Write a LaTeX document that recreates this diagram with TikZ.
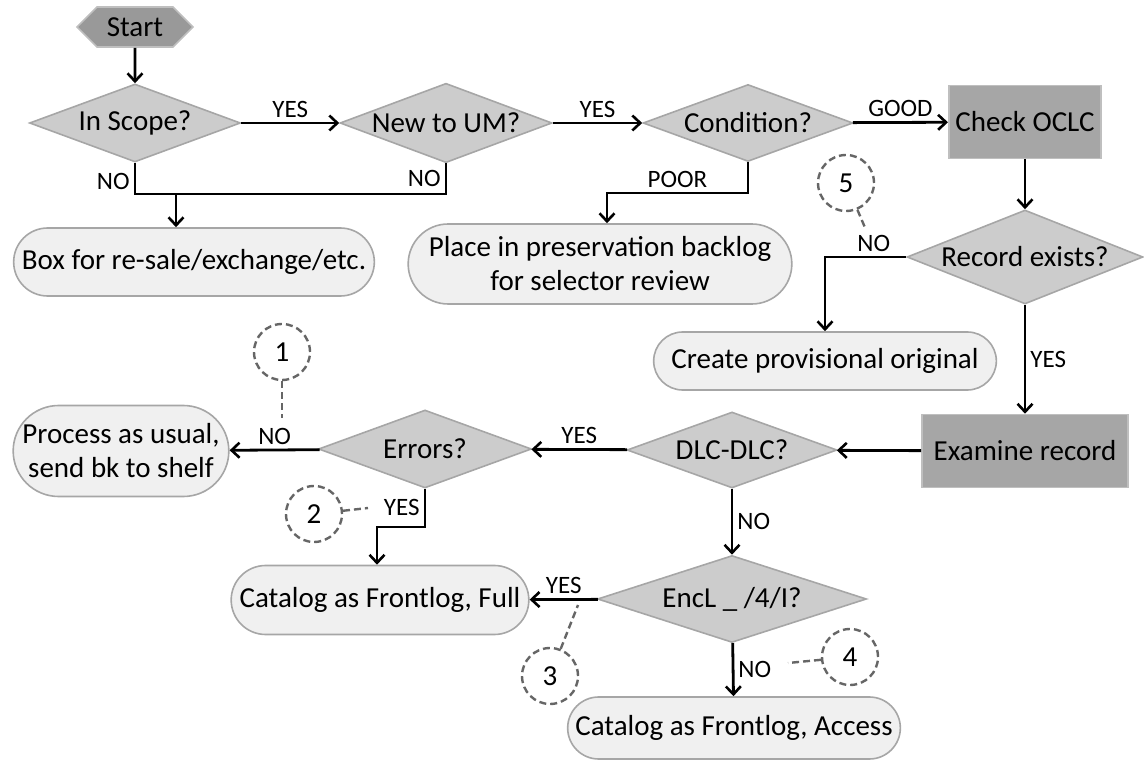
\documentclass[tikz,border=0pt]{standalone}
\usepackage{fontspec}
\setmainfont{Carlito}
\usetikzlibrary{shapes.geometric,shapes.misc,shapes.symbols,arrows.meta}

\begin{document}
\begin{tikzpicture}[
	x=0.5pt,y=-0.5pt,
	font=\fontsize{14.5}{17}\selectfont,
	decision/.style={diamond,draw=gray!70,line width=0.8pt,fill=gray!40,inner sep=0pt,aspect=2.5},
	task/.style={rectangle,draw=gray!50,line width=0.8pt,fill=gray!70,minimum width=103pt,minimum height=36.5pt},
	outcome/.style={rounded rectangle,draw=gray!70,line width=0.8pt,fill=gray!12,align=center},
	note/.style={circle,draw=black!60,dash pattern=on 3.5pt off 2pt,line width=1.2pt,minimum size=28pt,inner sep=0pt},
	tag/.style={font=\fontsize{12.5}{14}\selectfont,inner sep=2pt},
	flow/.style={line width=1.4pt,-{Straight Barb[length=4pt,width=7.5pt,line width=1.3pt]}},
	link/.style={draw=black!60,dash pattern=on 3.5pt off 2pt,line width=1.2pt},
	]
	\useasboundingbox (0,0) rectangle (1144,763);
	\node [signal,signal to=east and west,draw=gray!50,line width=0.8pt,fill=gray!80,minimum width=58pt,minimum height=20pt,inner sep=0pt] (start) at (135,27) {Start};
	\node [decision,minimum width=105.5pt,minimum height=39pt] (scope) at (135,123) {In Scope?};
	\node [decision,minimum width=106pt,minimum height=38.5pt] (newum) at (446,123) {New to UM?};
	\node [decision,minimum width=105pt,minimum height=38.5pt] (cond) at (748,123) {Condition?};
	\node [task,minimum width=75.5pt] (oclc) at (1025,122) {Check OCLC};
	\node [decision,minimum width=118pt,minimum height=47pt] (exists) at (1025,257) {Record exists?};
	\node [outcome,minimum width=187pt,minimum height=34pt] (resale) at (194,262) {Box for re-sale/exchange/etc.};
	\node [outcome,minimum width=198.5pt,minimum height=40pt] (backlog) at (600,264) {Place in preservation backlog\\ for selector review};
	\node [outcome,minimum width=178pt,minimum height=29pt] (provis) at (825,361) {Create provisional original};
	\node [task] (examine) at (1025,451) {Examine record};
	\node [decision,minimum width=105pt,minimum height=38pt] (dlc) at (732,450) {DLC-DLC?};
	\node [decision,minimum width=106.5pt,minimum height=39pt] (errors) at (425,449) {Errors?};
	\node [outcome,minimum width=114.5pt,minimum height=45.5pt] (process) at (121,451) {Process as usual,\\ send bk to shelf};
	\node [outcome,minimum width=155.5pt,minimum height=34.5pt] (full) at (380,600) {Catalog as Frontlog, Full};
	\node [decision,minimum width=134.5pt,minimum height=43.5pt] (encl) at (732,599) {EncL \_ /4/I?};
	\node [outcome,minimum width=173pt,minimum height=31pt] (access) at (734,728) {Catalog as Frontlog, Access};
	\node [note] (c1) at (282,352) {1};
	\node [note] (c2) at (314,514) {2};
	\node [note] (c3) at (550,676) {3};
	\node [note] (c4) at (850,657) {4};
	\node [note] (c5) at (846,183) {5};
	\coordinate (j1) at (176,194);
	\coordinate (j2) at (607,193);
	\coordinate (j3) at (377,527);
	\coordinate (p1) at (282,418);
	\coordinate (p2) at (368,508);
	\coordinate (p3) at (578,605);
	\coordinate (p4) at (788,663);
	\coordinate (p5) at (866,230);
	\draw[flow] (start) -- (scope);
	\draw[flow] (scope) -- node[tag,above]{YES} (newum);
	\draw[flow] (newum) -- node[tag,above]{YES} (cond);
	\draw[flow] (cond) -- node[tag,above]{GOOD} (oclc);
	\draw[line width=1.4pt] (scope.south) |- node[tag,pos=0.3,left]{NO} (j1) -| node[tag,pos=0.75,left]{NO} (newum.south);
	\draw[flow] (j1) -- (j1 |- resale.north);
	\draw[flow] (cond.south) |- node[tag,pos=0.75,above]{POOR} (j2) -- (j2 |- backlog.north);
	\draw[flow] (oclc) -- (exists);
	\draw[flow] (exists.west) -| node[tag,pos=0.2,above]{NO} (provis.north);
	\draw[flow] (exists) -- node[tag,right]{YES} (examine);
	\draw[flow] (examine) -- (dlc);
	\draw[flow] (dlc) -- node[tag,above]{YES} (errors);
	\draw[flow] (errors) -- node[tag,above]{NO} (process);
	\draw[flow] (errors.south) |- node[tag,pos=0.25,left]{YES} (j3) -- (j3 |- full.north);
	\draw[flow] (dlc) -- node[tag,right]{NO} (encl);
	\draw[flow] (encl) -- node[tag,above]{YES} (full);
	\draw[flow] (encl) -- node[tag,right]{NO} (access);
	\draw[link] (c1) -- (p1);
	\draw[link] (c2) -- (p2);
	\draw[link] (c3) -- (p3);
	\draw[link] (c4) -- (p4);
	\draw[link] (c5) -- (p5);
\end{tikzpicture}
\end{document}
